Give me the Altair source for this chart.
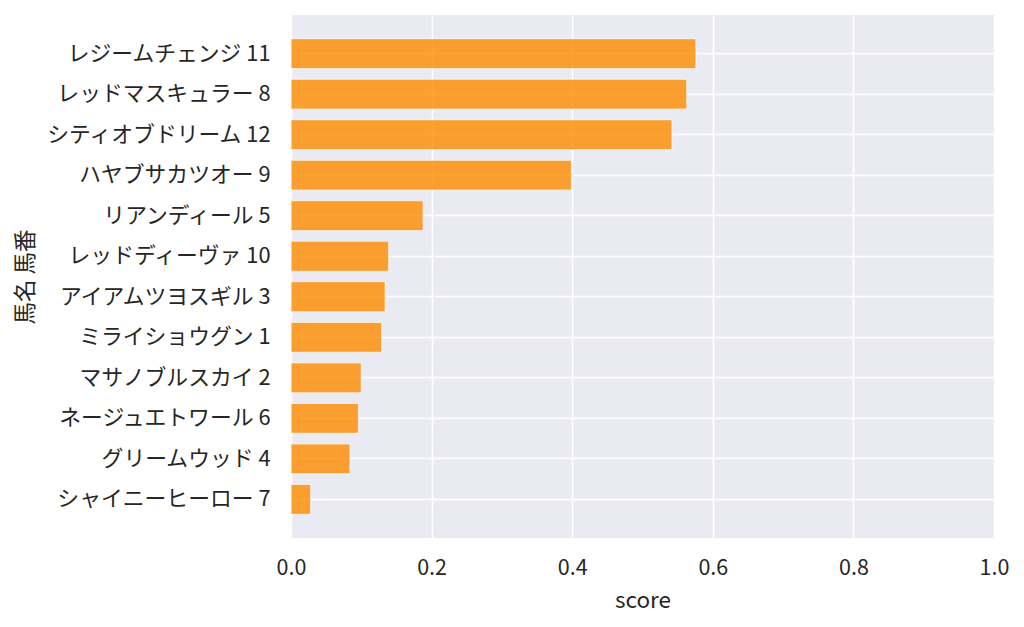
import altair as alt
import pandas as pd

horses = ["レジームチェンジ 11", "レッドマスキュラー 8", "シティオブドリーム 12", "ハヤブサカツオー 9",
          "リアンディール 5", "レッドディーヴァ 10", "アイアムツヨスギル 3", "ミライショウグン 1",
          "マサノブルスカイ 2", "ネージュエトワール 6", "グリームウッド 4", "シャイニーヒーロー 7"]
scores = [0.576, 0.563, 0.542, 0.399, 0.188, 0.139, 0.134, 0.129, 0.100, 0.096, 0.084, 0.028]
x_ticks = [0.0, 0.2, 0.4, 0.6, 0.8, 1.0]

df = pd.DataFrame({"name": horses, "score": scores})
FONT = "Noto Sans CJK JP"

chart = alt.Chart(df).mark_bar(
    color="#ff8c00", opacity=0.8, stroke="white", strokeWidth=1.2, strokeOpacity=0.7
).encode(
    x=alt.X("score:Q", title="score",
            scale=alt.Scale(domain=[0, 1], nice=False, zero=True),
            axis=alt.Axis(values=x_ticks, format=".1f", labelFontSize=21.5, titleFontSize=22.5,
                          labelPadding=19, tickSize=0, domain=False, gridColor="white",
                          gridWidth=1.6, labelColor="#262626", titleColor="#262626",
                          titleFontWeight="normal", titleY=62, titleBaseline="middle",
                          labelFlush=False)),
    y=alt.Y("name:N", title="馬名 馬番", sort=horses,
            scale=alt.Scale(paddingInner=0.26, paddingOuter=0.585),
            axis=alt.Axis(labelFontSize=21.8, titleFontSize=22.5, labelPadding=21, tickSize=0,
                          domain=False, grid=True, gridColor="white", gridWidth=1.6,
                          bandPosition=0.5, labelColor="#262626", titleColor="#262626",
                          titleFontWeight="normal", titleX=-266, titleBaseline="middle",
                          labelLimit=400)),
).properties(
    width=703, height=523,
    padding={"left": 283, "top": 7, "right": 22, "bottom": 80},
    autosize=alt.AutoSizeParams(type="none"),
).configure(
    font=FONT, background="white"
).configure_view(
    fill="#eaeaf2", stroke=None
)

chart.save("out.html", embed_options={"renderer": "svg", "actions": False})
